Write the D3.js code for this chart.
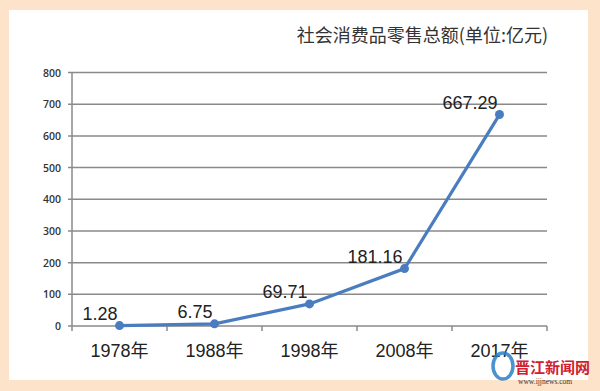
<!DOCTYPE html>
<html><head><meta charset="utf-8">
<script src="https://cdn.jsdelivr.net/npm/d3@7"></script>
<style>body{margin:0;background:#fde3c9;}svg{display:block;}</style>
</head><body>
<script>
const categories = ["1978年","1988年","1998年","2008年","2017年"];
const values = [1.28, 6.75, 69.71, 181.16, 667.29];
const valueLabels = ["1.28","6.75","69.71","181.16","667.29"];
const yTicks = [0,100,200,300,400,500,600,700,800];
const title = "社会消费品零售总额(单位:亿元)";

const W = 600, H = 391;
const svg = d3.select("body").append("svg").attr("width", W).attr("height", H);
svg.append("rect").attr("width", W).attr("height", H).attr("fill", "#fde3c9");
svg.append("rect").attr("x", 9).attr("y", 10).attr("width", 579).attr("height", 370).attr("fill", "#ffffff");

const x = d3.scaleBand().domain(categories).range([72, 547]);
const y = d3.scaleLinear().domain([0, 800]).range([326, 72.5]);

const g = svg.append("g");
g.selectAll("line.grid").data(yTicks).join("line")
  .attr("x1", 68).attr("x2", 547)
  .attr("y1", d => y(d)).attr("y2", d => y(d))
  .attr("stroke", "#8a8a8a").attr("stroke-width", 1.5);
g.append("line").attr("x1", 72).attr("x2", 72).attr("y1", y(800)).attr("y2", y(0))
  .attr("stroke", "#8a8a8a").attr("stroke-width", 1.5);
const bounds = categories.map(c => x(c)).concat([x.range()[1]]);
g.selectAll("line.xt").data(bounds).join("line")
  .attr("x1", d => d).attr("x2", d => d).attr("y1", y(0)).attr("y2", y(0) + 5)
  .attr("stroke", "#8a8a8a").attr("stroke-width", 1.5);
g.selectAll("text.yl").data(yTicks).join("text")
  .attr("x", 61).attr("y", d => y(d) + 4)
  .attr("text-anchor", "end").attr("font-family", "Open Sans, sans-serif")
  .attr("font-size", 10.5).attr("font-weight", 600).attr("fill", "#333")
  .text(d => d);
g.selectAll("text.xl").data(categories).join("text")
  .attr("x", d => x(d) + x.bandwidth() / 2).attr("y", 357)
  .attr("text-anchor", "middle").attr("font-family", "Liberation Sans, Noto Sans CJK SC, sans-serif")
  .attr("font-size", 18).attr("fill", "#222")
  .text(d => d);
const cx = (d, i) => x(categories[i]) + x.bandwidth() / 2;
svg.append("path").datum(values)
  .attr("d", d3.line().x(cx).y(d => y(d)))
  .attr("fill", "none").attr("stroke", "#4a7dbf").attr("stroke-width", 3.2);
svg.selectAll("circle.pt").data(values).join("circle")
  .attr("cx", cx).attr("cy", d => y(d)).attr("r", 4.5).attr("fill", "#4a7dbf");
svg.selectAll("text.dl").data(values).join("text")
  .attr("x", (d, i) => cx(d, i) - 2).attr("y", d => y(d) - 6)
  .attr("text-anchor", "end").attr("font-family", "Liberation Sans, sans-serif")
  .attr("font-size", 18).attr("fill", "#222")
  .text((d, i) => valueLabels[i]);
svg.append("text").attr("x", 548).attr("y", 42).attr("text-anchor", "end")
  .attr("font-family", "Noto Sans CJK SC, sans-serif").attr("font-size", 18).attr("fill", "#333")
  .text(title);
const wm = svg.append("g");
wm.append("ellipse").attr("cx", 503).attr("cy", 366).attr("rx", 10).attr("ry", 13)
  .attr("fill", "none").attr("stroke", "#2a7fc8").attr("stroke-width", 3.5).attr("opacity", 0.85);
wm.append("text").attr("x", 515).attr("y", 373).attr("font-family", "Noto Sans CJK SC, sans-serif")
  .attr("font-size", 15).attr("font-weight", 700).attr("fill", "#d02030").text("晋江新闻网");
wm.append("text").attr("x", 518).attr("y", 384).attr("font-family", "Liberation Serif, serif")
  .attr("font-size", 7.5).attr("fill", "#333").text("www.ijjnews.com");
</script>
</body></html>
